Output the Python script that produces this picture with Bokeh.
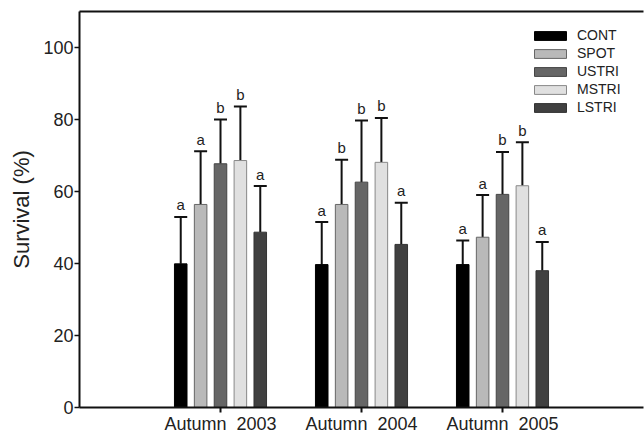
from bokeh.plotting import figure
from bokeh.models import (ColumnDataSource, Whisker, FixedTicker, LinearAxis,
                          Legend, LegendItem, Range1d, TeeHead)
from bokeh.core.properties import value
from bokeh.embed import file_html
from bokeh.resources import INLINE

groups = ["Autumn\u00a0\u00a02003", "Autumn\u00a0\u00a02004", "Autumn\u00a0\u00a02005"]
treatments = ["CONT", "SPOT", "USTRI", "MSTRI", "LSTRI"]
colors = ["#000000", "#b9b9b9", "#666666", "#e0e0e0", "#404040"]
outline = ["#000000", "#666666", "#444444", "#888888", "#333333"]

means = {
    "CONT":  [39.9, 39.7, 39.7],
    "SPOT":  [56.4, 56.4, 47.3],
    "USTRI": [67.7, 62.6, 59.2],
    "MSTRI": [68.6, 68.1, 61.6],
    "LSTRI": [48.7, 45.3, 38.0],
}
upper = {
    "CONT":  [52.9, 51.5, 46.4],
    "SPOT":  [71.2, 68.8, 59.0],
    "USTRI": [80.0, 79.7, 71.0],
    "MSTRI": [83.6, 80.4, 73.7],
    "LSTRI": [61.5, 56.9, 46.0],
}
letters = {
    "CONT":  ["a", "a", "a"],
    "SPOT":  ["a", "b", "a"],
    "USTRI": ["b", "b", "b"],
    "MSTRI": ["b", "b", "b"],
    "LSTRI": ["a", "a", "a"],
}
group_pos = [1, 2, 3]
y_ticks = [0, 20, 40, 60, 80, 100]

FONT = "Liberation Sans"
TXT = "#222222"

p = figure(width=644, height=436, frame_width=564, frame_height=396,
           output_backend="svg", toolbar_location=None,
           x_range=Range1d(0, 4), y_range=Range1d(0, 110),
           min_border_left=79, min_border_top=11, min_border_bottom=29,
           min_border_right=1)
p.outline_line_color = None
p.grid.visible = False
p.background_fill_color = "white"

step = 0.141
bw = 0.089
items = []
for i, t in enumerate(treatments):
    off = (i - 2) * step
    xs = [g + off for g in group_pos]
    src = ColumnDataSource(dict(x=xs, top=means[t], up=upper[t],
                                lab=letters[t],
                                ly=[u + 1.0 for u in upper[t]]))
    r = p.vbar(x="x", top="top", width=bw, source=src, fill_color=colors[i],
               line_color=outline[i], line_width=1)
    items.append(LegendItem(label=t, renderers=[r]))
    w = Whisker(source=src, base="x", lower="top", upper="up",
                line_color="#111111", line_width=2,
                upper_head=TeeHead(size=13, line_width=2, line_color="#111111"),
                lower_head=None)
    p.add_layout(w)
    p.text(x="x", y="ly", text="lab", source=src, text_align="center",
           text_baseline="bottom", text_font=value(FONT),
           text_font_size="15px", text_color=TXT)

# axes
ax = p.xaxis[0]
ax.ticker = FixedTicker(ticks=group_pos)
ax.major_label_overrides = {g: lab for g, lab in zip(group_pos, groups)}
ax.minor_tick_line_color = None
ax.major_tick_out = 5
ax.major_tick_in = 0
ax.axis_line_width = 2
ax.major_tick_line_width = 2
ax.axis_line_color = "#111111"
ax.major_tick_line_color = "#111111"
ax.major_label_text_font = FONT
ax.major_label_text_font_size = "18px"
ax.major_label_text_color = TXT
ax.major_label_standoff = 1

ay = p.yaxis[0]
ay.ticker = FixedTicker(ticks=y_ticks)
ay.minor_tick_line_color = None
ay.major_tick_out = 5
ay.major_tick_in = 0
ay.axis_line_width = 2
ay.major_tick_line_width = 1.5
ay.axis_line_color = "#111111"
ay.major_tick_line_color = "#111111"
ay.major_label_text_font = FONT
ay.major_label_text_font_size = "18px"
ay.major_label_text_color = TXT
ay.major_label_standoff = 1
ay.axis_label = "Survival (%)"
ay.axis_label_text_font = FONT
ay.axis_label_text_font_size = "22px"
ay.axis_label_text_font_style = "normal"
ay.axis_label_text_color = TXT
ay.axis_label_standoff = 6

top = LinearAxis(ticker=FixedTicker(ticks=[]), axis_line_width=2,
                 axis_line_color="#111111", major_label_text_font_size="0px",
                 major_tick_line_color=None, minor_tick_line_color=None)
p.add_layout(top, "above")

legend = Legend(items=items, location=(451, 292), padding=0, margin=0,
                border_line_color=None, background_fill_alpha=0,
                glyph_width=40, glyph_height=11, label_height=11, spacing=2,
                label_text_font=FONT, label_text_font_size="14px",
                label_text_color=TXT, label_standoff=7)
p.add_layout(legend, "center")

open("out.html", "w").write(file_html(p, INLINE))
